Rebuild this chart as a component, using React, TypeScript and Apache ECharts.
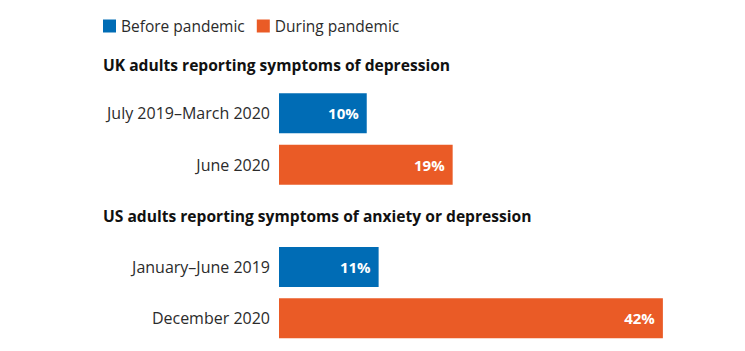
import React, { useEffect, useRef } from "react";
import * as echarts from "echarts";

const seriesNames = ["Before pandemic", "During pandemic"];
const colors = ["#006cb5", "#ea5b26"];

const ukTitle = "UK adults reporting symptoms of depression";
const ukCategories = ["July 2019–March 2020", "June 2020"];
const ukBefore = [9.6, "-"];
const ukDuring = ["-", 19];

const usTitle = "US adults reporting symptoms of anxiety or depression";
const usCategories = ["January–June 2019", "December 2020"];
const usBefore = [10.9, "-"];
const usDuring = ["-", 42];

const FONT = "'Open Sans', Roboto, sans-serif";

export default function App() {
  const ref = useRef<HTMLDivElement>(null);
  useEffect(() => {
    document.body.style.margin = "0";
    const chart = echarts.init(ref.current!, null, { renderer: "svg" });
    const label = {
      show: true,
      position: "insideRight",
      distance: 8,
      color: "#ffffff",
      fontWeight: "bold",
      fontSize: 15,
      fontFamily: FONT,
      formatter: (p: any) => Math.round(p.value) + "%",
    };
    const yAxisBase = {
      type: "category",
      inverse: true,
      axisLine: { show: false },
      axisTick: { show: false },
      axisLabel: { color: "#2b2b2b", fontSize: 16, fontFamily: FONT, margin: 9 },
    };
    const mkSeries = (name: string, color: string, data: any[], idx: number) => ({
      name,
      type: "bar",
      xAxisIndex: idx,
      yAxisIndex: idx,
      data,
      barWidth: 40,
      barGap: "-100%",
      itemStyle: { color },
      label,
    });
    chart.setOption({
      animation: false,
      textStyle: { fontFamily: FONT },
      legend: {
        data: seriesNames,
        left: 103,
        top: 18,
        itemWidth: 13,
        itemHeight: 13,
        itemGap: 12,
        icon: "rect",
        textStyle: { fontSize: 15.5, color: "#2b2b2b", fontFamily: FONT },
        padding: 0,
        selectedMode: false,
      },
      title: [
        {
          text: ukTitle,
          left: 103,
          top: 57,
          padding: 0,
          textStyle: { fontSize: 15.6, fontWeight: "bold", color: "#111111", fontFamily: FONT },
        },
        {
          text: usTitle,
          left: 103,
          top: 208,
          padding: 0,
          textStyle: { fontSize: 15.6, fontWeight: "bold", color: "#111111", fontFamily: FONT },
        },
      ],
      grid: [
        { left: 279, width: 457, top: 87.6, height: 102.8 },
        { left: 279, width: 457, top: 241.2, height: 102.8 },
      ],
      xAxis: [
        { type: "value", gridIndex: 0, min: 0, max: 50, show: false },
        { type: "value", gridIndex: 1, min: 0, max: 50, show: false },
      ],
      yAxis: [
        { ...yAxisBase, gridIndex: 0, data: ukCategories },
        { ...yAxisBase, gridIndex: 1, data: usCategories },
      ],
      series: [
        mkSeries(seriesNames[0], colors[0], ukBefore, 0),
        mkSeries(seriesNames[1], colors[1], ukDuring, 0),
        mkSeries(seriesNames[0], colors[0], usBefore, 1),
        mkSeries(seriesNames[1], colors[1], usDuring, 1),
      ],
    });
    return () => chart.dispose();
  }, []);
  return <div ref={ref} style={{ width: 745, height: 351 }} />;
}
